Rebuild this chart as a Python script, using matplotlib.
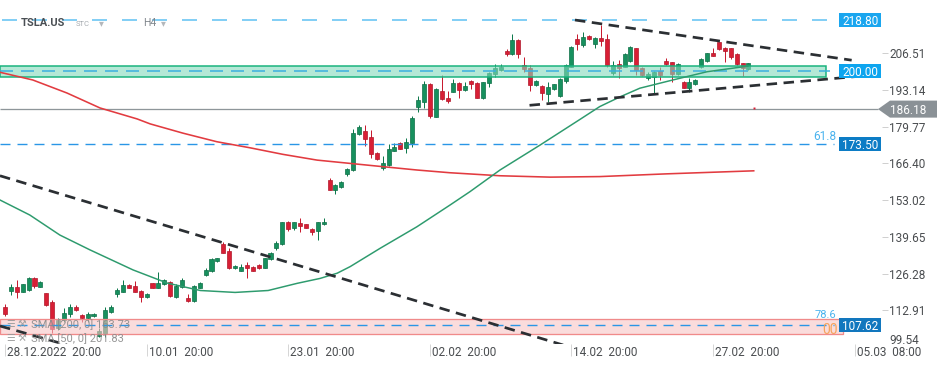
import matplotlib
matplotlib.use('Agg')
import matplotlib.pyplot as plt
from matplotlib.patches import Rectangle, Polygon
import matplotlib.transforms as mtransforms
import numpy as np

plt.rcParams['font.family'] = ['Roboto', 'DejaVu Sans']
plt.rcParams['lines.scale_dashes'] = False

# ---------------- data (H4 candles, TSLA.US) ----------------
opens = [114.20, 120.03, 121.38, 119.66, 120.28, 124.76, 121.49, 119.08, 115.80, 106.33,
         109.35, 111.43, 114.20, 111.18, 109.97, 110.81, 103.63, 104.25, 112.16, 118.72,
         119.66, 122.10, 121.74, 120.03, 117.62, 122.72, 121.12, 122.36, 123.31, 117.84,
         121.27, 117.26, 116.28, 121.12, 125.75, 127.20, 130.96, 137.04, 134.49, 128.19,
         127.31, 129.39, 128.66, 129.39, 128.41, 131.58, 135.69, 136.93, 144.95, 142.98,
         144.58, 144.22, 142.51, 141.78, 144.22, 160.36, 156.71, 157.92, 162.43, 164.00,
         177.00, 178.21, 175.91, 170.08, 164.62, 165.82, 171.03, 173.94, 171.90, 173.94,
         187.06, 188.88, 195.22, 183.41, 192.89, 190.12, 192.52, 195.80, 193.14, 196.42,
         195.58, 190.34, 195.58, 199.15, 200.43, 207.35, 206.15, 211.36, 202.25, 201.27,
         194.96, 194.60, 191.69, 193.40, 191.07, 196.42, 201.63, 211.72, 209.54, 212.92,
         209.90, 212.20, 211.72, 199.23, 202.51, 201.63, 203.71, 208.33, 201.05, 197.41,
         197.77, 200.06, 203.71, 203.23, 198.86, 196.17, 193.98, 195.33, 201.41, 203.71,
         206.73, 210.52, 208.55, 208.33, 206.26, 202.87, 200.80]
highs = [115.18, 122.36, 123.93, 122.58, 125.02, 125.02, 123.50, 119.30, 116.64, 110.08,
         113.73, 115.18, 114.82, 111.54, 112.38, 111.80, 106.44, 114.09, 114.82, 120.90,
         123.93, 122.36, 123.56, 120.28, 119.08, 122.94, 126.73, 124.18, 123.56, 122.36,
         124.76, 118.72, 122.10, 123.09, 128.41, 131.83, 131.94, 137.88, 135.47, 129.39,
         129.65, 130.37, 128.91, 129.65, 132.05, 134.02, 138.13, 145.17, 145.42, 145.17,
         146.40, 144.50, 142.98, 145.17, 146.62, 161.19, 158.79, 160.00, 164.84, 178.83,
         180.39, 180.39, 178.57, 170.45, 169.10, 173.36, 173.73, 174.31, 175.55, 183.67,
         190.96, 196.42, 195.58, 193.77, 198.61, 192.78, 197.04, 196.17, 196.17, 196.79,
         196.17, 196.17, 199.81, 202.51, 202.51, 208.08, 213.43, 211.72, 205.27, 202.25,
         196.79, 194.96, 195.95, 195.50, 197.40, 202.51, 208.99, 213.43, 214.38, 213.18,
         212.56, 216.82, 213.43, 203.82, 204.07, 206.44, 208.99, 208.55, 201.41, 199.81,
         200.06, 201.63, 204.69, 203.45, 202.80, 196.42, 197.41, 197.15, 204.69, 206.73,
         208.55, 210.74, 208.92, 208.55, 206.44, 203.09, 203.09]
lows = [110.92, 118.46, 117.48, 119.44, 120.03, 121.12, 121.30, 114.60, 104.62, 105.71,
        108.63, 110.56, 112.64, 108.73, 108.73, 110.56, 103.16, 103.16, 111.90, 117.84,
        119.44, 120.90, 119.44, 115.80, 117.37, 120.90, 120.90, 122.10, 117.84, 117.48,
        120.90, 116.02, 116.02, 120.90, 125.49, 126.95, 130.66, 133.65, 127.82, 127.93,
        127.20, 124.76, 127.09, 127.93, 128.19, 131.21, 134.86, 136.68, 141.78, 142.14,
        141.52, 142.70, 140.32, 138.50, 143.96, 156.60, 155.15, 157.40, 161.92, 163.75,
        176.64, 172.85, 168.48, 167.64, 164.00, 165.46, 170.81, 171.54, 170.08, 172.27,
        185.24, 186.48, 182.83, 183.20, 189.50, 188.30, 192.41, 190.12, 192.89, 193.62,
        190.12, 189.75, 194.35, 197.99, 200.17, 205.64, 205.89, 204.69, 199.81, 192.89,
        194.60, 189.50, 188.88, 193.14, 190.70, 195.80, 201.34, 207.72, 208.92, 211.36,
        208.33, 209.28, 201.63, 198.61, 197.41, 201.34, 203.45, 198.61, 198.35, 196.79,
        191.94, 196.79, 202.25, 195.95, 198.61, 193.76, 192.52, 194.96, 201.27, 203.45,
        205.42, 207.72, 203.45, 204.33, 202.25, 198.35, 200.60]
closes = [111.43, 121.38, 119.66, 122.36, 124.76, 121.63, 123.31, 114.82, 106.08, 109.35,
          111.90, 114.20, 113.00, 109.97, 111.43, 111.43, 105.35, 113.00, 114.20, 120.28,
          122.10, 121.12, 119.66, 117.84, 118.83, 121.12, 122.72, 123.82, 118.21, 121.92,
          123.93, 116.28, 121.74, 122.72, 127.57, 131.47, 131.83, 133.87, 128.41, 129.03,
          128.66, 128.19, 127.31, 128.41, 131.83, 133.65, 137.51, 144.95, 142.51, 144.95,
          143.71, 142.98, 141.52, 144.95, 145.06, 156.71, 158.53, 159.52, 164.36, 177.37,
          179.55, 175.18, 169.72, 167.90, 166.44, 171.65, 172.27, 171.76, 174.31, 182.83,
          189.50, 195.33, 183.67, 193.40, 189.75, 189.25, 195.58, 193.14, 194.60, 195.22,
          190.34, 195.95, 199.45, 201.16, 201.63, 206.15, 211.36, 206.15, 200.68, 194.96,
          196.42, 191.94, 194.35, 195.22, 197.04, 202.25, 208.70, 209.79, 212.56, 211.72,
          212.20, 211.10, 202.25, 202.25, 201.05, 206.15, 208.70, 200.43, 198.61, 198.86,
          199.59, 198.61, 202.51, 198.86, 202.51, 193.98, 195.95, 196.79, 204.33, 206.51,
          205.64, 207.97, 207.35, 205.06, 202.51, 201.05, 202.87]

# moving averages (candle index, price)
sma200_idx = [-0.85, 4.7, 10.5, 16.1, 22.4, 24.6, 30.2, 35.9, 41.5, 47.1, 52.9, 58.5,
              64.1, 69.8, 75.4, 83.9, 92.4, 100.8, 112.2, 126.9]
sma200_val = [199.6, 196.8, 192.05, 186.6, 182.6, 180.8, 177.4, 174.3, 172.1, 169.7, 167.6,
              166.4, 165.2, 164.0, 163.0, 161.9, 161.4, 161.6, 162.6, 163.7]
sma50_idx = [-0.85, 4.2, 9.3, 14.4, 21.7, 27.5, 33.1, 39.0, 44.6, 49.5, 53.4, 56.3, 58.5,
             63.6, 69.8, 75.4, 78.8, 83.9, 90.7, 97.5, 100.8, 104.2, 107.6, 113.2, 119.0,
             125.1, 125.9]
sma50_val = [153.07, 147.6, 140.3, 134.9, 127.6, 122.8, 120.1, 119.4, 120.1, 122.7, 124.5,
             126.4, 128.8, 135.5, 143.3, 151.2, 156.1, 164.0, 173.1, 182.5, 187.1, 190.6,
             193.8, 196.8, 199.8, 201.6, 201.83]

# trend lines (index, price)
trend_top_idx = [96.6, 143.5]
trend_top_val = [218.64, 204.0]
trend_rise_idx = [88.9, 144.9]
trend_rise_val = [187.57, 198.17]
trend_fall_idx = [-0.85, 94.6]
trend_fall_val = [161.9, 100.24]
trend_low_idx = [-0.85, 10.5]
trend_low_val = [107.17, 100.24]

# horizontal levels and zones
level_top = 218.80
level_mid = 200.00
level_grey = 186.18
fib_618 = 173.50
fib_786 = 107.62
zone_green = (197.77, 201.78)
zone_pink = (104.36, 109.72)
last_mark_idx = 126.9
last_mark_val = 186.5

tick_idx = [0, 24, 48, 72, 96, 120, 144]
tick_labels = ['28.12.2022  20:00', '10.01  20:00', '23.01  20:00', '02.02  20:00',
               '14.02  20:00', '27.02  20:00', '05.03  08:00']
price_ticks = [206.51, 193.14, 179.77, 166.40, 153.02, 139.65, 126.28, 112.91]
low_label = '99.54'

legend_lines = ['SMA [200, 0] 163.73', 'SMA [50, 0] 201.83']

# ---------------- figure ----------------
PT = 0.72  # points per pixel at dpi 100
fig = plt.figure(figsize=(9.49, 3.70), dpi=100)
ax = fig.add_axes([0, 26 / 370, 882 / 949, 344 / 370])
ax.set_xlim(-0.847, 148.64)
ax.set_ylim(100.61, 225.93)
for s in ax.spines.values():
    s.set_visible(False)

o = np.array(opens); h = np.array(highs); l = np.array(lows); c = np.array(closes)
x = np.arange(len(o))
up = c >= o
body_fc = np.where(up, '#17905e', '#d81f35')
body_ec = np.where(up, '#0e6e46', '#b0182b')
wick_c = np.where(up, '#0f7a4d', '#c81c30')

# grey level line (under candles)
ax.hlines(level_grey, -0.85, 148.0, colors='#8e969a', linewidth=1.3 * PT, zorder=1.5)

ax.vlines(x, l, h, colors=wick_c, linewidth=1.0 * PT, zorder=2)
ax.bar(x, np.maximum(np.abs(c - o), 0.4), bottom=np.minimum(o, c), width=0.68,
       color=body_fc, edgecolor=body_ec, linewidth=0.5, zorder=3)

# zones (semi-transparent over candles)
ax.add_patch(Rectangle((-0.85, zone_green[0]), 139.15 + 0.85, zone_green[1] - zone_green[0],
                       facecolor=(0.514, 0.855, 0.733, 0.6), edgecolor='#16b27c',
                       linewidth=1.5 * PT, zorder=4))
ax.add_patch(Rectangle((-0.85, zone_pink[0]), 142.0 + 0.85, zone_pink[1] - zone_pink[0],
                       facecolor=(0.969, 0.773, 0.773, 0.6), edgecolor='#f08a8a',
                       linewidth=1.3 * PT, zorder=4))

# dashed levels
ax.hlines(level_top, -0.5, 139.8, colors='#5cc0f3', linewidth=1.5 * PT,
          linestyles=[(0, (15 * PT, 15 * PT))], zorder=4.5)
ax.hlines(level_mid, -0.85, 139.8, colors='#39aee0', linewidth=1.5 * PT,
          linestyles=[(0, (13 * PT, 8 * PT))], zorder=4.5)
ax.hlines(fib_618, -0.85, 140.5, colors='#2a96e6', linewidth=1.4 * PT,
          linestyles=[(0, (10 * PT, 7 * PT))], zorder=4.5)
ax.hlines(fib_786, -0.85, 140.5, colors='#2a96e6', linewidth=1.4 * PT,
          linestyles=[(0, (10 * PT, 7 * PT))], zorder=4.5)

# moving averages
ax.plot(sma200_idx, sma200_val, color='#e23b40', linewidth=1.6 * PT, zorder=5)
ax.plot(sma50_idx, sma50_val, color='#2e9b6e', linewidth=1.5 * PT, zorder=5)

# trend lines
tl = dict(color='#2b2f33', linewidth=2.7 * PT, linestyle=(0, (10.5 * PT, 6.5 * PT)), zorder=6,
          solid_capstyle='butt', dash_capstyle='butt')
ax.plot(trend_top_idx, trend_top_val, **tl)
ax.plot(trend_rise_idx, trend_rise_val, **tl)
ax.plot(trend_fall_idx, trend_fall_val, **tl)
ax.plot(trend_low_idx, trend_low_val, **tl)

ax.plot([last_mark_idx], [last_mark_val], marker='s', markersize=1.4, markeredgewidth=0,
        color='#d81f35', zorder=6)

# price labels on the right of levels
def level_box(val, color, text):
    ax.add_patch(Rectangle((141.4, val - 2.55), 7.1, 5.1, facecolor=color, edgecolor='none',
                           zorder=10, clip_on=False))
    ax.text(144.95, val, text, color='white', fontsize=8.5, ha='center', va='center_baseline',
            zorder=11, clip_on=False)

level_box(level_top, '#1aa6ef', f'{level_top:.2f}')
level_box(level_mid, '#0ea5ef', f'{level_mid:.2f}')
level_box(fib_618, '#0c7cc5', f'{fib_618:.2f}')
level_box(fib_786, '#1277be', f'{fib_786:.2f}')

# grey arrow label for 186.18
blend = mtransforms.blended_transform_factory(ax.transAxes, ax.transData)
gx0, gx1, gx2 = 878 / 882, 890 / 882, 937 / 882
ax.add_patch(Polygon([(gx0, level_grey), (gx1, level_grey + 3.1), (gx2, level_grey + 3.1),
                      (gx2, level_grey - 3.1), (gx1, level_grey - 3.1)], closed=True,
                     facecolor='#8a9196', edgecolor='none', transform=blend, clip_on=False,
                     zorder=10))
ax.text(908 / 882, level_grey, f'{level_grey:.2f}', color='white', fontsize=8.5, ha='center',
        va='center_baseline', transform=blend, clip_on=False, zorder=11)

# fibonacci texts
ax.text(139.0, fib_618 + 3.3, '61.8', color='#4ab3ee', fontsize=8.5, ha='center',
        va='center_baseline', zorder=11)
ax.text(139.1, fib_786 + 3.9, '78.6', color='#4ab3ee', fontsize=8, ha='center',
        va='center_baseline', zorder=11)
ax.text(139.8, fib_786 - 1.3, '00', color='#f5a35c', fontsize=10, ha='center',
        va='center_baseline', zorder=11)

# axes ticks
ax.yaxis.tick_right()
ax.set_yticks(price_ticks)
ax.set_yticklabels([f'{v:.2f}' for v in price_ticks])
ax.tick_params(axis='y', direction='out', length=6 * PT, width=1 * PT, color='#d0d0d0',
               pad=1 * PT, labelsize=8.5, labelcolor='#4a4d50')
ax.text(889 / 882, 102.43, low_label, transform=blend, fontsize=8.5, color='#4a4d50',
        ha='left', va='center_baseline', clip_on=False)

ax.set_xticks(tick_idx)
ax.set_xticklabels(tick_labels)
ax.tick_params(axis='x', direction='out', length=12 * PT, width=1 * PT, color='#d6d6d6',
               pad=-10.5 * PT, labelsize=8.5, labelcolor='#4a4d50')
offset = mtransforms.ScaledTranslation(2 / 100, 0, fig.dpi_scale_trans)
for lab in ax.get_xticklabels():
    lab.set_horizontalalignment('left')
    lab.set_transform(lab.get_transform() + offset)

# header
def fx(px):
    return px / 949
def fy(py):
    return 1 - py / 370
fig.text(fx(20.5), fy(22), 'TSLA.US', fontsize=8, weight='bold', color='#4a4f54',
         va='center_baseline')
fig.text(fx(76), fy(23), 'STC', fontsize=5.5, color='#a6abb0', va='center_baseline')
fig.text(fx(99), fy(22), '▾', fontsize=7, color='#b4b8bc', va='center_baseline')
fig.text(fx(143), fy(22), 'H4', fontsize=7.5, color='#80868c', va='center_baseline')
fig.text(fx(161), fy(22), '▾', fontsize=7, color='#b4b8bc', va='center_baseline')

# legend (bottom-left)
for i, txt in enumerate(legend_lines):
    yy = 323.3 + 14 * i
    fig.text(fx(6), fy(yy), '☰', fontsize=7, color='#9a9a9a', va='center_baseline', alpha=0.9)
    fig.text(fx(18), fy(yy), '⚒', fontsize=7, color='#9a9a9a', va='center_baseline', alpha=0.9)
    fig.text(fx(31.5), fy(yy), txt, fontsize=8, color='#8a8a8a', va='center_baseline', alpha=0.9)

fig.savefig('out.png', dpi=100)
